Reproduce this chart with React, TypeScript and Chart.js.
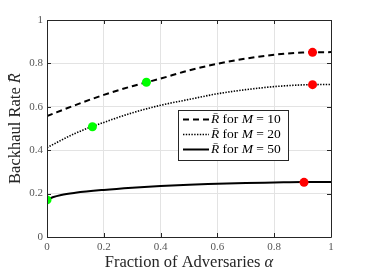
import React, { useEffect, useRef } from 'react';
import { Chart, registerables } from 'chart.js';

Chart.register(...registerables);

// ---- data ----
const alphaM10 = [0, 0.1, 0.2, 0.3, 0.4, 0.5, 0.6, 0.7, 0.8, 0.9, 1.0];
const rateM10 = [0.557, 0.608, 0.655, 0.695, 0.730, 0.768, 0.798, 0.822, 0.840, 0.850, 0.852];

const alphaM20 = [0, 0.1, 0.2, 0.3, 0.4, 0.5, 0.6, 0.7, 0.8, 0.9, 1.0];
const rateM20 = [0.412, 0.478, 0.528, 0.572, 0.607, 0.634, 0.660, 0.679, 0.693, 0.701, 0.703];

const alphaM50 = [0, 0.02, 0.05, 0.1, 0.2, 0.3, 0.4, 0.5, 0.6, 0.7, 0.8, 0.9, 1.0];
const rateM50 = [0.171, 0.183, 0.194, 0.204, 0.217, 0.227, 0.235, 0.241, 0.245, 0.249, 0.251, 0.253, 0.253];

const greenAlpha = [0.35, 0.16, 0];
const greenRate = [0.713, 0.508, 0.171];
const redAlpha = [0.935, 0.935, 0.905];
const redRate = [0.851, 0.702, 0.252];

const tickValues = [0, 0.2, 0.4, 0.6, 0.8, 1];
const seriesLabels = ['10', '20', '50'];
const xTitle = 'Fraction of Adversaries ';
const yTitle = 'Backhaul Rate ';

const FONT = '"Liberation Serif", "DejaVu Serif", serif';
const INK = '#262626';

type Seg = { t: string; italic?: boolean };

function drawRich(ctx: CanvasRenderingContext2D, segs: Seg[], x: number, y: number, size: number, align: 'left' | 'center') {
  const fonts = segs.map((s) => `${s.italic ? 'italic ' : ''}${size}px ${FONT}`);
  const widths = segs.map((s, i) => {
    ctx.font = fonts[i];
    return ctx.measureText(s.t).width;
  });
  const total = widths.reduce((a, b) => a + b, 0);
  let cx = align === 'center' ? x - total / 2 : x;
  ctx.textAlign = 'left';
  ctx.textBaseline = 'middle';
  segs.forEach((s, i) => {
    ctx.font = fonts[i];
    ctx.fillText(s.t, cx, y);
    cx += widths[i];
  });
}

const pts = (xs: number[], ys: number[]) => xs.map((x, i) => ({ x, y: ys[i] }));

export default function App() {
  const ref = useRef<HTMLCanvasElement>(null);

  useEffect(() => {
    if (!ref.current) return;

    const lineStyles = [
      { dash: [6, 4], width: 2 },
      { dash: [1.4, 1.4], width: 1.6 },
      { dash: [] as number[], width: 2 },
    ];

    const decor = {
      id: 'decor',
      afterDraw(chart: any) {
        const ctx: CanvasRenderingContext2D = chart.ctx;
        const { left, right, top, bottom } = chart.chartArea;
        const xs = chart.scales.x;
        const ys = chart.scales.y;
        ctx.save();
        // frame box
        ctx.strokeStyle = INK;
        ctx.lineWidth = 1;
        ctx.beginPath();
        ctx.rect(Math.round(left) + 0.5, Math.round(top) + 0.5, Math.round(right - left), Math.round(bottom - top));
        ctx.stroke();
        // inward ticks
        const tl = 4;
        ctx.beginPath();
        tickValues.forEach((v) => {
          const px = Math.round(xs.getPixelForValue(v)) + 0.5;
          ctx.moveTo(px, bottom);
          ctx.lineTo(px, bottom - tl);
          ctx.moveTo(px, top);
          ctx.lineTo(px, top + tl);
          const py = Math.round(ys.getPixelForValue(v)) + 0.5;
          ctx.moveTo(left, py);
          ctx.lineTo(left + tl, py);
          ctx.moveTo(right, py);
          ctx.lineTo(right - tl, py);
        });
        ctx.stroke();

        // axis titles
        ctx.fillStyle = INK;
        drawRich(ctx, [{ t: xTitle }, { t: 'α', italic: true }], (left + right) / 2, 263, 16.5, 'center');
        ctx.save();
        ctx.translate(16, (top + bottom) / 2);
        ctx.rotate(-Math.PI / 2);
        drawRich(ctx, [{ t: yTitle }, { t: 'R\u0304', italic: true }], 0, 0, 16.5, 'center');
        ctx.restore();

        // legend
        const bx = 178.5, by = 110.5, bw = 110, bh = 50;
        ctx.fillStyle = '#ffffff';
        ctx.fillRect(bx, by, bw, bh);
        ctx.strokeStyle = INK;
        ctx.lineWidth = 1;
        ctx.strokeRect(bx, by, bw, bh);
        const rows = [119.5, 134.5, 149.5];
        rows.forEach((ry, i) => {
          const st = lineStyles[i];
          ctx.strokeStyle = '#000000';
          ctx.lineWidth = st.width;
          ctx.setLineDash(st.dash);
          ctx.beginPath();
          ctx.moveTo(183, ry);
          ctx.lineTo(209, ry);
          ctx.stroke();
          ctx.setLineDash([]);
          ctx.fillStyle = '#000000';
          drawRich(
            ctx,
            [{ t: 'R\u0304', italic: true }, { t: ' for ' }, { t: 'M', italic: true }, { t: ' = ' + seriesLabels[i] }],
            211,
            ry,
            13.5,
            'left'
          );
        });
        ctx.restore();
      },
    };

    const lineDs = (xs: number[], ys: number[], i: number) => ({
      type: 'line' as const,
      data: pts(xs, ys),
      borderColor: '#000000',
      borderWidth: lineStyles[i].width,
      borderDash: lineStyles[i].dash,
      pointRadius: 0,
      fill: false,
      cubicInterpolationMode: 'monotone' as const,
      order: 2,
    });

    const chart = new Chart(ref.current, {
      type: 'line',
      data: {
        datasets: [
          lineDs(alphaM10, rateM10, 0),
          lineDs(alphaM20, rateM20, 1),
          lineDs(alphaM50, rateM50, 2),
          {
            type: 'scatter' as const,
            data: pts(greenAlpha, greenRate),
            backgroundColor: '#00ff00',
            borderWidth: 0,
            pointRadius: 4.5,
            showLine: false,
            order: 0,
          } as any,
          {
            type: 'scatter' as const,
            data: pts(redAlpha, redRate),
            backgroundColor: '#ff0000',
            borderWidth: 0,
            pointRadius: 4.5,
            showLine: false,
            order: 0,
          } as any,
        ],
      },
      options: {
        animation: false,
        responsive: false,
        layout: { padding: { left: 0, top: 20, right: 35, bottom: 0 } },
        plugins: { legend: { display: false }, tooltip: { enabled: false } },
        scales: {
          x: {
            type: 'linear',
            min: 0,
            max: 1,
            afterFit: (s: any) => {
              s.height = 37;
            },
            afterBuildTicks: (s: any) => {
              s.ticks = tickValues.map((v) => ({ value: v }));
            },
            ticks: {
              padding: 4,
              color: '#555555',
              font: { family: FONT, size: 11 },
              callback: (v: any) => String(Number(v)),
              maxRotation: 0,
            },
            grid: { color: '#e3e3e3', drawTicks: false },
            border: { display: false },
          },
          y: {
            type: 'linear',
            min: 0,
            max: 1,
            afterFit: (s: any) => {
              s.width = 47;
            },
            afterBuildTicks: (s: any) => {
              s.ticks = tickValues.map((v) => ({ value: v }));
            },
            ticks: {
              padding: 4,
              color: '#555555',
              font: { family: FONT, size: 11 },
              callback: (v: any) => String(Number(v)),
            },
            grid: { color: '#e3e3e3', drawTicks: false },
            border: { display: false },
          },
        },
      },
      plugins: [decor],
    } as any);

    return () => chart.destroy();
  }, []);

  return (
    <div style={{ position: 'fixed', left: 0, top: 0, width: 366, height: 274, background: '#ffffff' }}>
      <canvas ref={ref} width={366} height={274} style={{ display: 'block' }} />
    </div>
  );
}
